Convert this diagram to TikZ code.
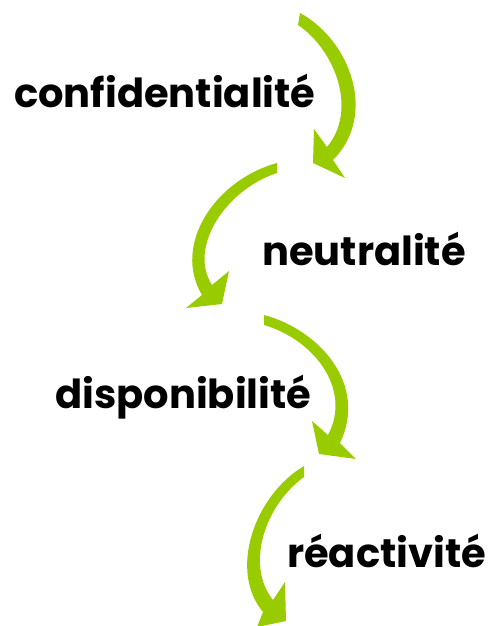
\documentclass[tikz,border=0pt]{standalone}
\usepackage{fontspec}
\setmainfont{Poppins}
\definecolor{leafgreen}{RGB}{153,204,0}
\tikzset{
    word/.style={anchor=base west, inner sep=0pt, font=\fontsize{40}{46}\selectfont\bfseries},
    bentarrow/.style={fill=leafgreen, draw=none}
}
\begin{document}
\begin{tikzpicture}[line cap=round, line join=round, x=1pt, y=-1pt]

            \useasboundingbox (0,0) rectangle (487,626);

            \node[word] (conf) at (14,107) {confidentialité};
            \node[word] (neut) at (262,265) {neutralité};
            \node[word] (disp) at (55,408) {disponibilité};
            \node[word] (reac) at (287,567) {réactivité};

            % first arrow, right of conf
            \fill[bentarrow] (300,13) .. controls (350,40) and (378,115) .. (333,160)
                -- (345,178) -- (313,163) -- (314,129) -- (327,147)
                .. controls (358,110) and (335,50) .. (298,25) -- cycle;

            % second arrow, left of neut
            \fill[bentarrow] (277,163) .. controls (215,180) and (172,245) .. (202,295)
                -- (186,308) -- (222,304) -- (229,271) -- (212,285)
                .. controls (188,248) and (225,190) .. (277,173) -- cycle;

            % third arrow, right of disp
            \fill[bentarrow] (264,315) .. controls (320,330) and (368,385) .. (340,443)
                -- (356,459) -- (319,454) -- (312,421) -- (328,435)
                .. controls (352,390) and (315,340) .. (264,325) -- cycle;

            % fourth arrow, left of reac
            \fill[bentarrow] (304,466) .. controls (255,495) and (228,570) .. (263,612)
                -- (257,627) -- (286,621) -- (285,582) -- (273,600)
                .. controls (245,565) and (265,505) .. (304,477) -- cycle;

\end{tikzpicture}
\end{document}
